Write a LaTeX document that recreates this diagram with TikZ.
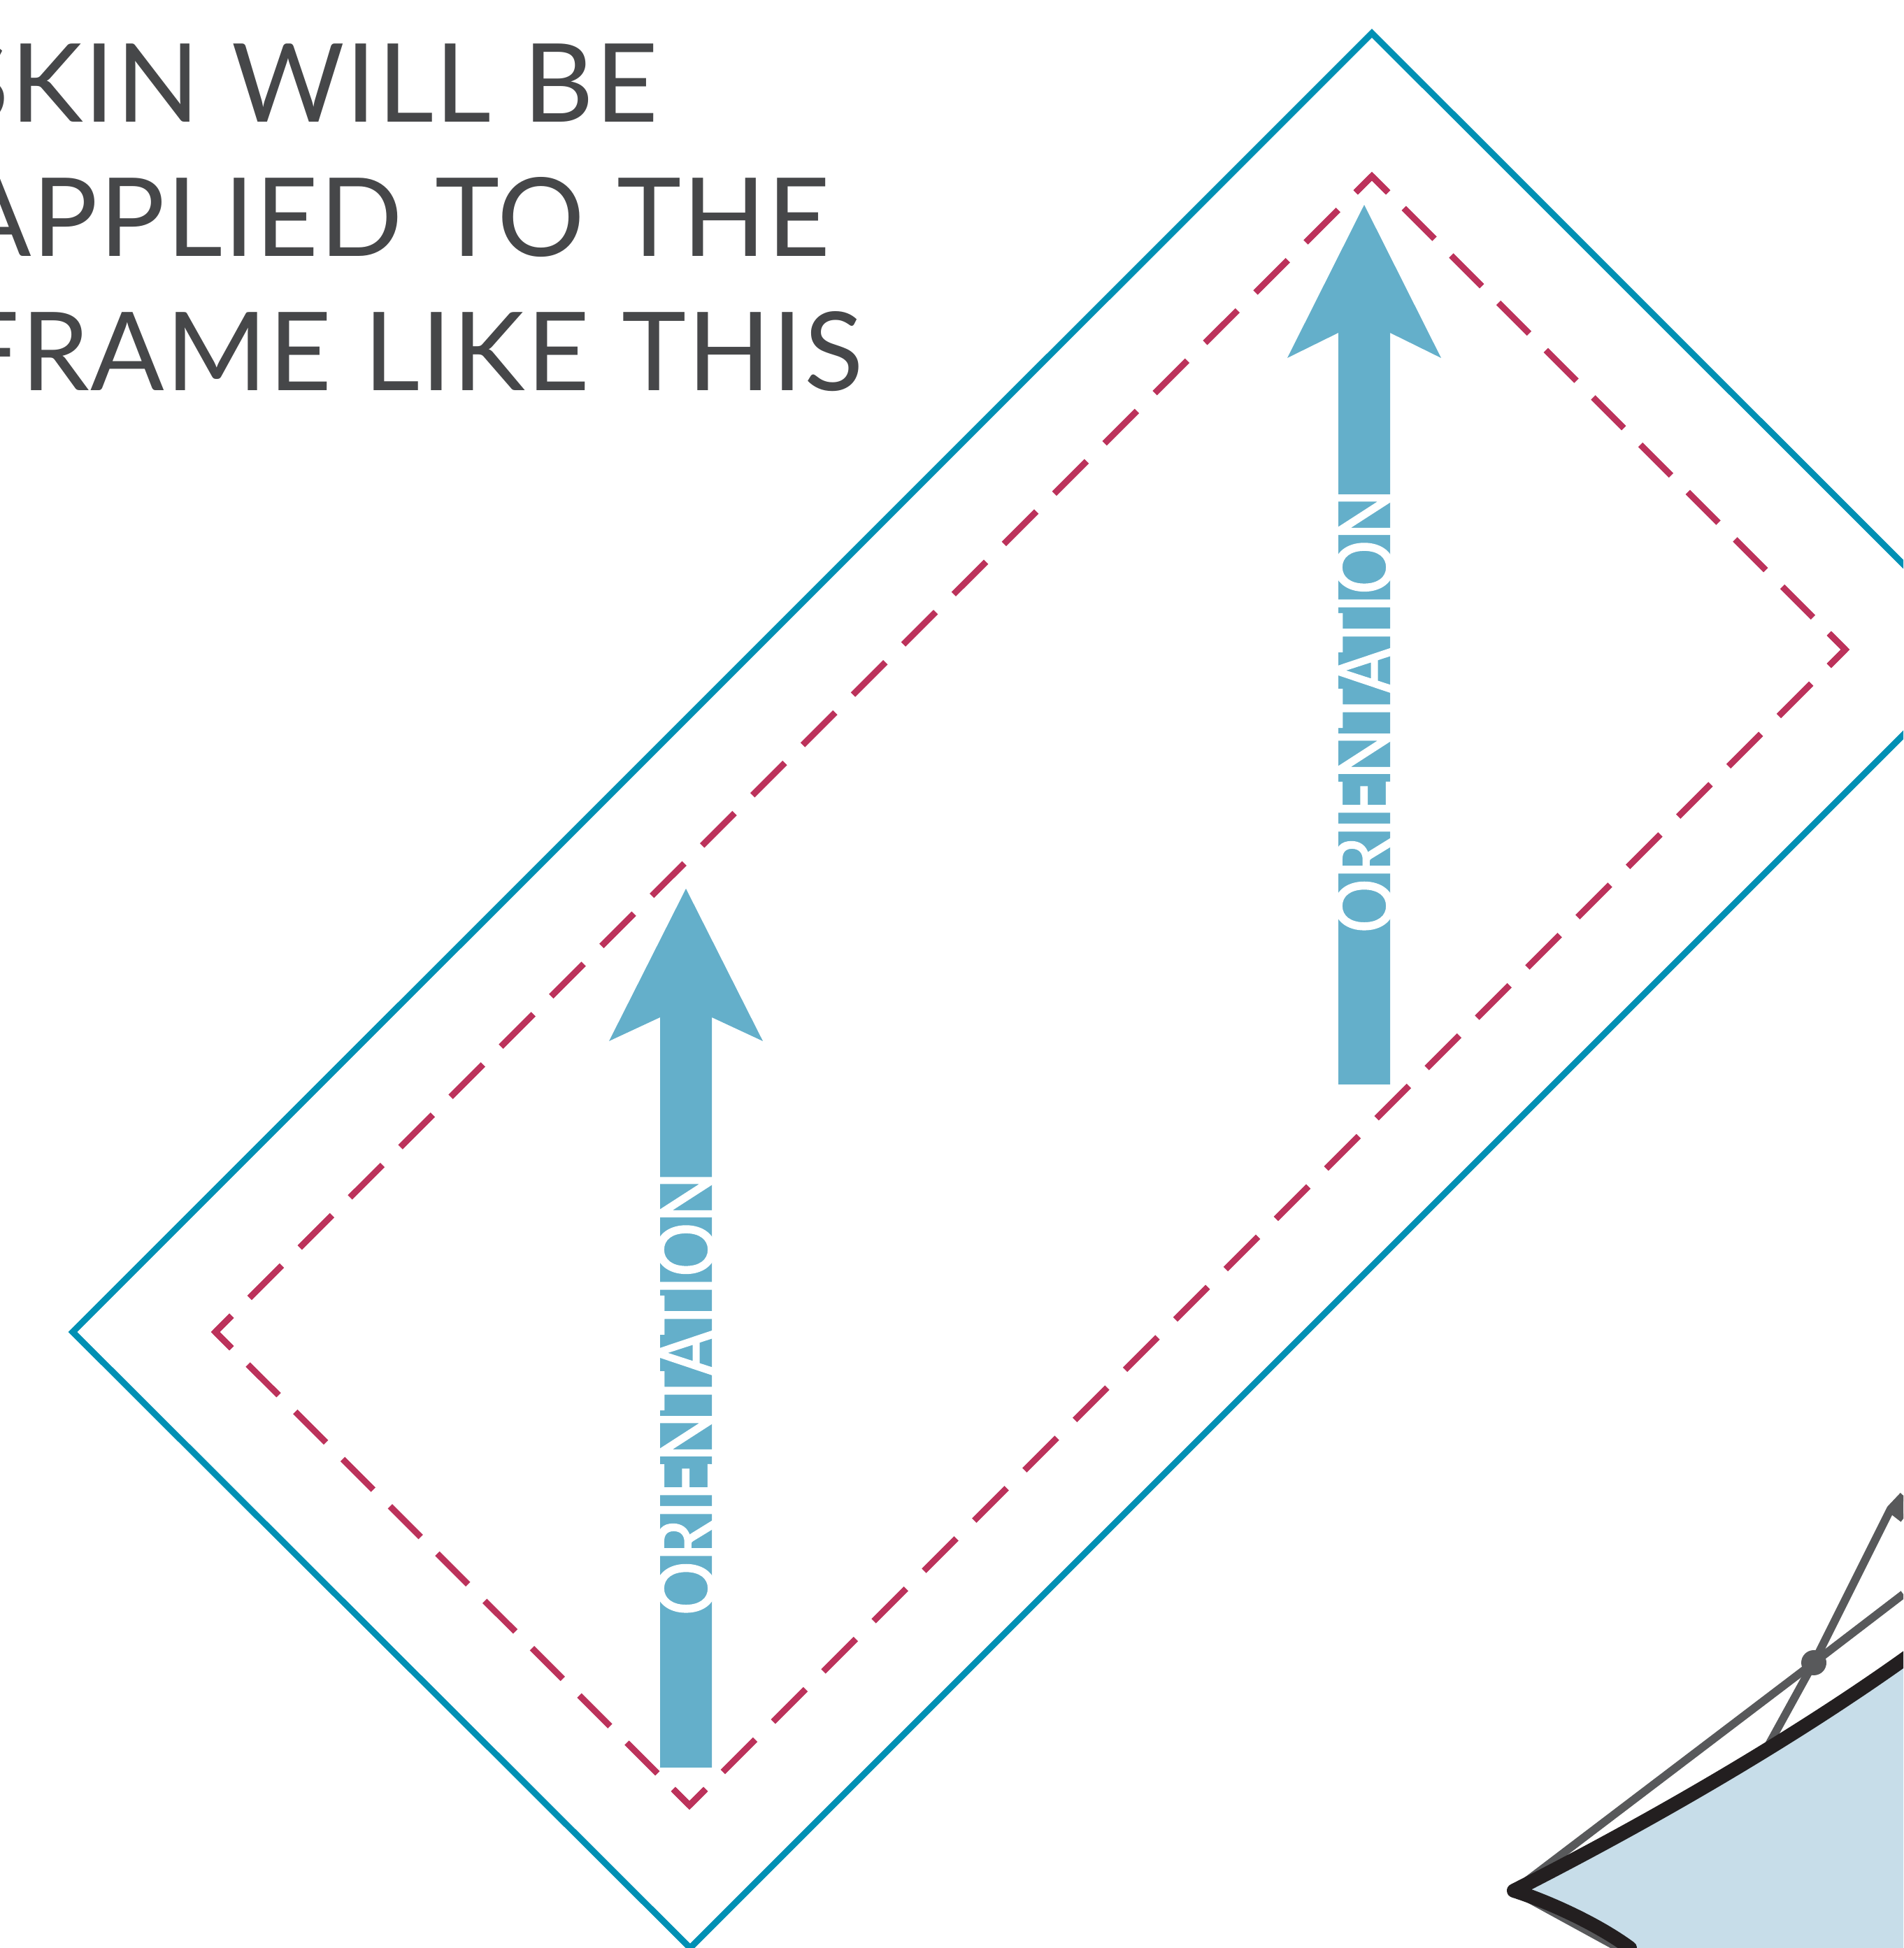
\documentclass[tikz,border=0pt]{standalone}
\usepackage{fontspec}
\newfontfamily\noteface[LetterSpace=1.2,WordSpace=1.1]{Lato}
\newfontfamily\orientface[FakeStretch=0.84,FakeBold=1.8]{Lato}
\usetikzlibrary{calc}
\definecolor{frameteal}{HTML}{0090B4}
\definecolor{cutred}{HTML}{BC325B}
\definecolor{arrowblue}{HTML}{64AFCA}
\definecolor{notegrey}{HTML}{464749}
\definecolor{skinblue}{HTML}{C7DDE9}
\definecolor{edgeblack}{HTML}{231F20}
\definecolor{rodgrey}{HTML}{58595B}
\tikzset{
  notetext/.style={text=notegrey,font=\noteface\fontsize{44.4}{53}\selectfont,inner sep=0pt,anchor=base east},
  orienttext/.style={text=white,font=\orientface\fontsize{32.5}{36}\selectfont,inner sep=0pt,rotate=90},
  cutline/.style={draw=cutred,line width=0.09cm},
  rod/.style={draw=rodgrey,line width=0.115cm,line join=round},
  edge/.style={draw=edgeblack,line width=0.2cm,line cap=round,line join=round}
}
\begin{document}
\begin{tikzpicture}
  \useasboundingbox (0,0) rectangle (27.22,27.86);
  \clip (0,0) rectangle (27.22,27.86);
  % outer frame
  \coordinate (Ol) at (1.04,8.81);
  \coordinate (Ot) at (19.62,27.385);
  \coordinate (Or) at (28.44,18.57);
  \coordinate (Ob) at (9.87,0.00);
  \draw[frameteal,line width=0.09cm] (Ol) -- (Ot) -- (Or) -- (Ob) -- cycle;
  % cut line
  \coordinate (Il) at (3.08,8.81);
  \coordinate (It) at (19.62,25.34);
  \coordinate (Ir) at (26.39,18.57);
  \coordinate (Ib) at (9.86,2.04);
  \draw[cutline,dash pattern=on 0.655cm off 0.362cm,dash phase=0.3275cm] (Il) -- (It);
  \draw[cutline,dash pattern=on 0.655cm off 0.362cm,dash phase=0.3275cm] (Ir) -- (Ib);
  \draw[cutline,dash pattern=on 0.62cm off 0.337cm,dash phase=0.31cm] (It) -- (Ir);
  \draw[cutline,dash pattern=on 0.62cm off 0.337cm,dash phase=0.31cm] (Ib) -- (Il);
  \foreach \a/\b/\c in {Il/It/Ir,It/Ir/Ib,Ir/Ib/Il,Ib/Il/It}
    \draw[cutline] ($(\b)!0.33cm!(\a)$) -- (\b) -- ($(\b)!0.33cm!(\c)$);
  % orientation arrows
  \fill[arrowblue] (9.44,2.58) -- (9.44,13.31) -- (8.71,12.97) -- (9.81,15.15)
    -- (10.91,12.97) -- (10.18,13.31) -- (10.18,2.58) -- cycle;
  \fill[arrowblue] (19.14,12.35) -- (19.14,23.10) -- (18.41,22.74) -- (19.51,24.93)
    -- (20.61,22.74) -- (19.88,23.10) -- (19.88,12.35) -- cycle;
  \node[orienttext] (orientA) at (9.81,7.93) {ORIENTATION};
  \node[orienttext] (orientB) at (19.51,17.69) {ORIENTATION};
  % note
  \node[notetext] (noteA) at (9.42,26.11) {SKIN WILL BE};
  \node[notetext] (noteB) at (11.88,24.19) {APPLIED TO THE};
  \node[notetext] (noteC) at (12.35,22.27) {FRAME LIKE THIS};
  % corner of the kite
  \coordinate (tip) at (21.65,0.82);
  \coordinate (hub) at (25.94,4.08);
  \coordinate (apex) at (27.04,6.28);
  \coordinate (foot) at (25.28,2.88);
  \fill[skinblue] (tip) .. controls (23.50,1.76) and (25.60,2.96) .. (27.22,4.12)
    -- (27.22,0) -- (23.31,0) .. controls (22.85,0.34) and (22.15,0.66) .. (tip) -- cycle;
  \draw[rod] (tip) -- (23.15,0);
  \draw[rod] (tip) -- (hub) -- (27.22,5.06);
  \draw[rod] (foot) -- (hub) -- (apex) -- (27.22,6.47);
  \draw[rod] (apex) -- (27.22,6.14);
  \fill[rodgrey] (apex) -- (27.22,6.47) -- (27.22,6.14) -- cycle;
  \fill[rodgrey] (hub) circle (0.18);
  \draw[edge] (23.31,0) .. controls (22.85,0.34) and (22.15,0.66) .. (tip)
    .. controls (23.50,1.76) and (25.60,2.96) .. (27.30,4.18);
\end{tikzpicture}
\end{document}
